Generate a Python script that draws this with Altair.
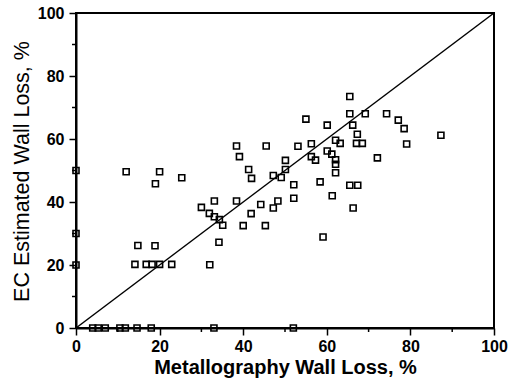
import altair as alt
import pandas as pd

# Metallography wall loss (%) and EC estimated wall loss (%)
metallography = [0, 0, 0,
                 4, 5.3, 7, 10.5, 11.8, 14.6, 18, 33, 52,
                 12, 20, 19, 25.3,
                 14.8, 18.9,
                 14.1, 16.8, 18.2, 20, 22.9,
                 32, 34.2,
                 30, 33.1, 31.9, 33.1, 34.3, 35.1,
                 38.4, 40, 41.9, 44.2, 45.3, 47.2, 48.3,
                 38.4, 39.1, 45.5,
                 41.3, 42, 47.2, 49.1,
                 50.1, 50.1, 52.1, 52.1,
                 53.1, 55, 56.3, 56.3, 57.3,
                 58.4, 59.1,
                 60.1, 60.1, 61.2, 62.1, 63.2,
                 62.1, 62.1, 62.1, 61.3,
                 65.5, 65.5, 66.2, 67.3, 67.1, 68.5,
                 65.5, 67.4, 66.3,
                 69.2, 72.1, 74.3, 77.1, 78.5, 79.1, 87.3]
ec_estimate = [50, 30, 20,
               0, 0, 0, 0, 0, 0, 0, 0, 0,
               49.6, 49.6, 45.8, 47.7,
               26.2, 26.1,
               20.2, 20.2, 20.2, 20.2, 20.2,
               20.1, 27.2,
               38.3, 40.3, 36.4, 35.3, 34.4, 32.6,
               40.3, 32.5, 36.3, 39.2, 32.5, 38.1, 40.3,
               57.8, 54.4, 57.8,
               50.3, 47.5, 48.4, 47.8,
               53.2, 50.3, 45.5, 41.2,
               57.7, 66.3, 58.5, 54.4, 53.3,
               46.4, 28.9,
               64.4, 56.2, 55.2, 59.6, 58.6,
               53.4, 52, 49.3, 42,
               73.5, 68, 64.4, 61.5, 58.6, 58.6,
               45.3, 45.3, 38.1,
               68, 54, 68, 66, 63.3, 58.4, 61.2]
diag_line = [0, 100]
major_ticks = [0, 20, 40, 60, 80, 100]
minor_ticks = [10, 30, 50, 70, 90]

W, H = 418, 315
FONT = "Liberation Sans"

pts = pd.DataFrame({"m": metallography, "ec": ec_estimate})
line_df = pd.DataFrame({"m": diag_line, "ec": diag_line})
minor_df = pd.DataFrame({"m": minor_ticks, "ec": minor_ticks})

xs = alt.Scale(domain=[0, 100], nice=False)
ys = alt.Scale(domain=[0, 100], nice=False)

x_axis = alt.Axis(values=major_ticks, title="Metallography Wall Loss, %",
                  tickSize=7, tickWidth=1.5, tickColor="black",
                  labelFontSize=16, labelFontWeight="bold", labelFont=FONT,
                  labelPadding=3, labelColor="black",
                  labelFlush=False, labelOverlap=False,
                  titleFontSize=20, titleFontWeight="bold", titleFont=FONT,
                  titlePadding=3, titleColor="black",
                  domainColor="black", domainWidth=2, grid=False)
y_axis = alt.Axis(values=major_ticks, title="EC Estimated Wall Loss, %",
                  tickSize=7, tickWidth=1.5, tickColor="black",
                  labelFontSize=16, labelFontWeight="bold", labelFont=FONT,
                  labelPadding=5, labelColor="black",
                  labelFlush=False, labelOverlap=False,
                  titleFontSize=21.5, titleFontWeight="normal", titleFont=FONT,
                  titlePadding=4, titleColor="black", titleY=158,
                  domainColor="black", domainWidth=2, grid=False)

X = alt.X("m:Q", scale=xs, axis=x_axis)
Y = alt.Y("ec:Q", scale=ys, axis=y_axis)

points = alt.Chart(pts).mark_point(shape="square", filled=False, color="black",
                                   strokeWidth=1.6, size=36, opacity=1).encode(x=X, y=Y)

diag = alt.Chart(line_df).mark_line(color="black", strokeWidth=1.5).encode(x=X, y=Y)

minor_x = alt.Chart(minor_df).mark_rule(color="black", strokeWidth=1.5).encode(
    x=X, y=alt.value(H), y2=alt.value(H + 4),
)
minor_y = alt.Chart(minor_df).mark_rule(color="black", strokeWidth=1.5).encode(
    y=Y, x=alt.value(0), x2=alt.value(-4),
)

chart = alt.layer(points, diag, minor_x, minor_y).properties(
    width=W, height=H,
    autosize=alt.AutoSizeParams(type="none"),
    padding={"left": 76, "top": 13, "right": 16, "bottom": 63},
    background="white",
).configure_view(stroke="black", strokeWidth=2).configure_axis(
    titleColor="black", labelColor="black")

chart.save("out.html", embed_options={"renderer": "svg", "actions": False})
